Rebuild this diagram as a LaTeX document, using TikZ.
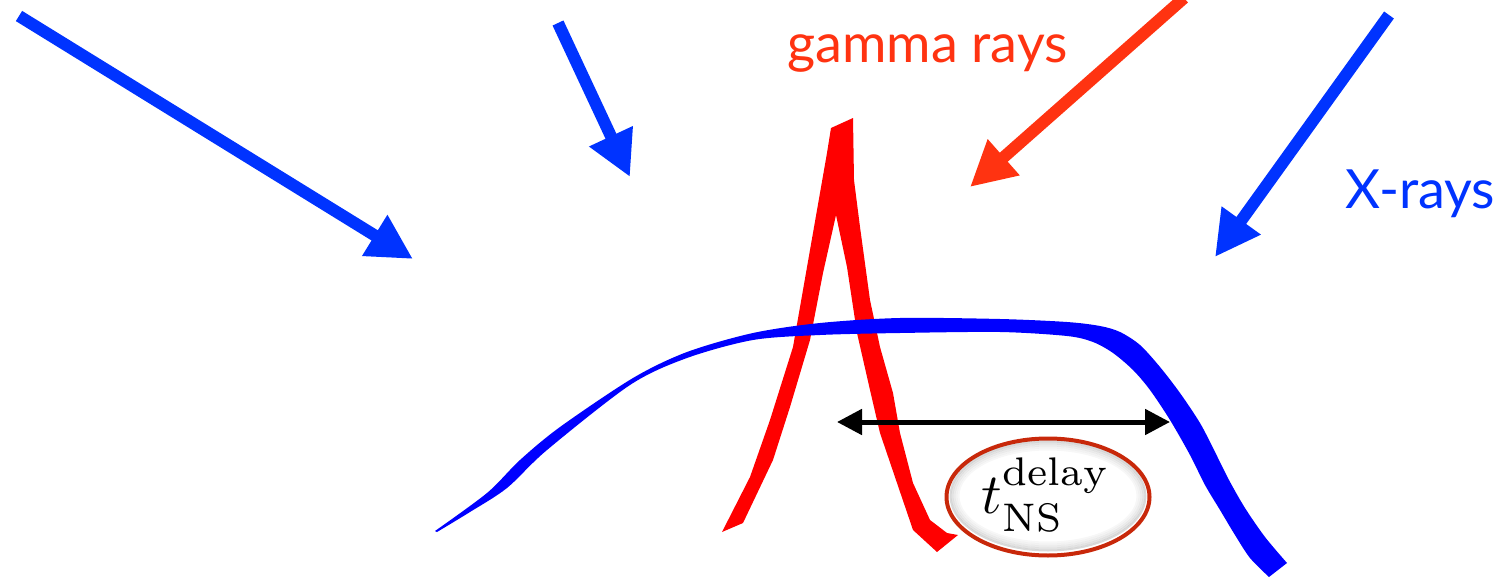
\documentclass[tikz,border=0pt]{standalone}
\usepackage{fontspec}
\usetikzlibrary{arrows.meta,shapes.geometric}
\newfontfamily\labelfont{Lato}
\definecolor{arrowblue}{RGB}{0,51,255}
\definecolor{curveblue}{RGB}{0,0,255}
\definecolor{arrowred}{RGB}{255,51,17}
\definecolor{spikered}{RGB}{255,0,0}
\definecolor{ellred}{RGB}{200,40,10}
\tikzset{
  ray/.style={line width=12pt,-{Triangle[length=45pt,width=45pt]}},
  xray/.style={ray,draw=arrowblue},
  gammaray/.style={ray,draw=arrowred},
  lbl/.style={inner sep=0pt,anchor=base west,font=\labelfont\fontsize{54}{60}\selectfont},
  span/.style={line width=5pt,{Triangle[length=25pt,width=25pt]}-{Triangle[length=25pt,width=25pt]}},
  delaybox/.style={ellipse,draw=ellred,line width=4pt,fill=white,inner sep=0pt,
    minimum width=203pt,minimum height=117pt}
}
\begin{document}
\begin{tikzpicture}[x=1pt,y=-1pt]
\useasboundingbox (0,0) rectangle (1508,578);
% coordinates
\coordinate (a1s) at (19,16);
\coordinate (a1e) at (413,259);
\coordinate (a2s) at (558,23);
\coordinate (a2e) at (630,177);
\coordinate (a3s) at (1184,-2);
\coordinate (a3e) at (970,187);
\coordinate (a4s) at (1389,15);
\coordinate (a4e) at (1215,257);
\coordinate (dl) at (837,422);
\coordinate (dr) at (1170,422);
% red spike
\fill[spikered] (722,532) -- (750,477) -- (770,420) -- (793,347) -- (810,250) -- (827,153) -- (831,128)
  -- (853,118) -- (854,180) -- (860,227) -- (870,300) -- (880,347) -- (893,393) -- (900,433)
  -- (913,483) -- (930,520) -- (947,533) -- (958,535) -- (937,552) -- (913,530) -- (897,483)
  -- (880,433) -- (870,390) -- (857,333) -- (847,267) -- (836,215) -- (823,273) -- (810,340)
  -- (790,407) -- (773,460) -- (743,523) -- cycle;
% blue curve
\fill[curveblue] plot[smooth] coordinates {(435,531) (487,493) (520,460) (560,427) (633,378) (687,352)
  (753,333) (820,323) (900,318) (1000,319) (1067,322) (1100,326) (1120,332) (1140,345) (1160,367)
  (1180,393) (1200,423) (1214,450) (1229,480) (1245,508) (1265,537) (1287,563)}
  -- plot[smooth] coordinates {(1269,577) (1250,558) (1235,535) (1220,510) (1205,485) (1190,455)
  (1170,420) (1150,390)
  (1133,370) (1113,353) (1093,342) (1067,336) (1000,332) (900,333) (820,335) (753,340) (687,358)
  (630,385) (547,450) (507,488) (470,512) (437,532)} -- cycle;
% incoming rays
\draw[xray] (a1s) -- (a1e);
\draw[xray] (a2s) -- (a2e);
\draw[gammaray] (a3s) -- (a3e);
\draw[xray] (a4s) -- (a4e);
% labels
\node[lbl,text=arrowred] (gl) at (787,63) {gamma rays};
\node[lbl,text=arrowblue] (xl) at (1345,208) {X-rays};
% delay span
\draw[span] (dl) -- (dr);
% delay ellipse
\node[delaybox] (delay) at (1048,497) {};
\foreach \i/\o in {1/0.15,2/0.11,3/0.08,4/0.05,5/0.03}{
  \draw[black,opacity=\o,line width=2pt] ([yshift=1pt]delay.center) ellipse ({99.5-2*\i} and {56.5-2*\i});
}
\node[inner sep=0pt,scale=5.7] (dtxt) at (1046,495) {$t^{\mathrm{delay}}_{\mathrm{NS}}$};
\end{tikzpicture}
\end{document}
